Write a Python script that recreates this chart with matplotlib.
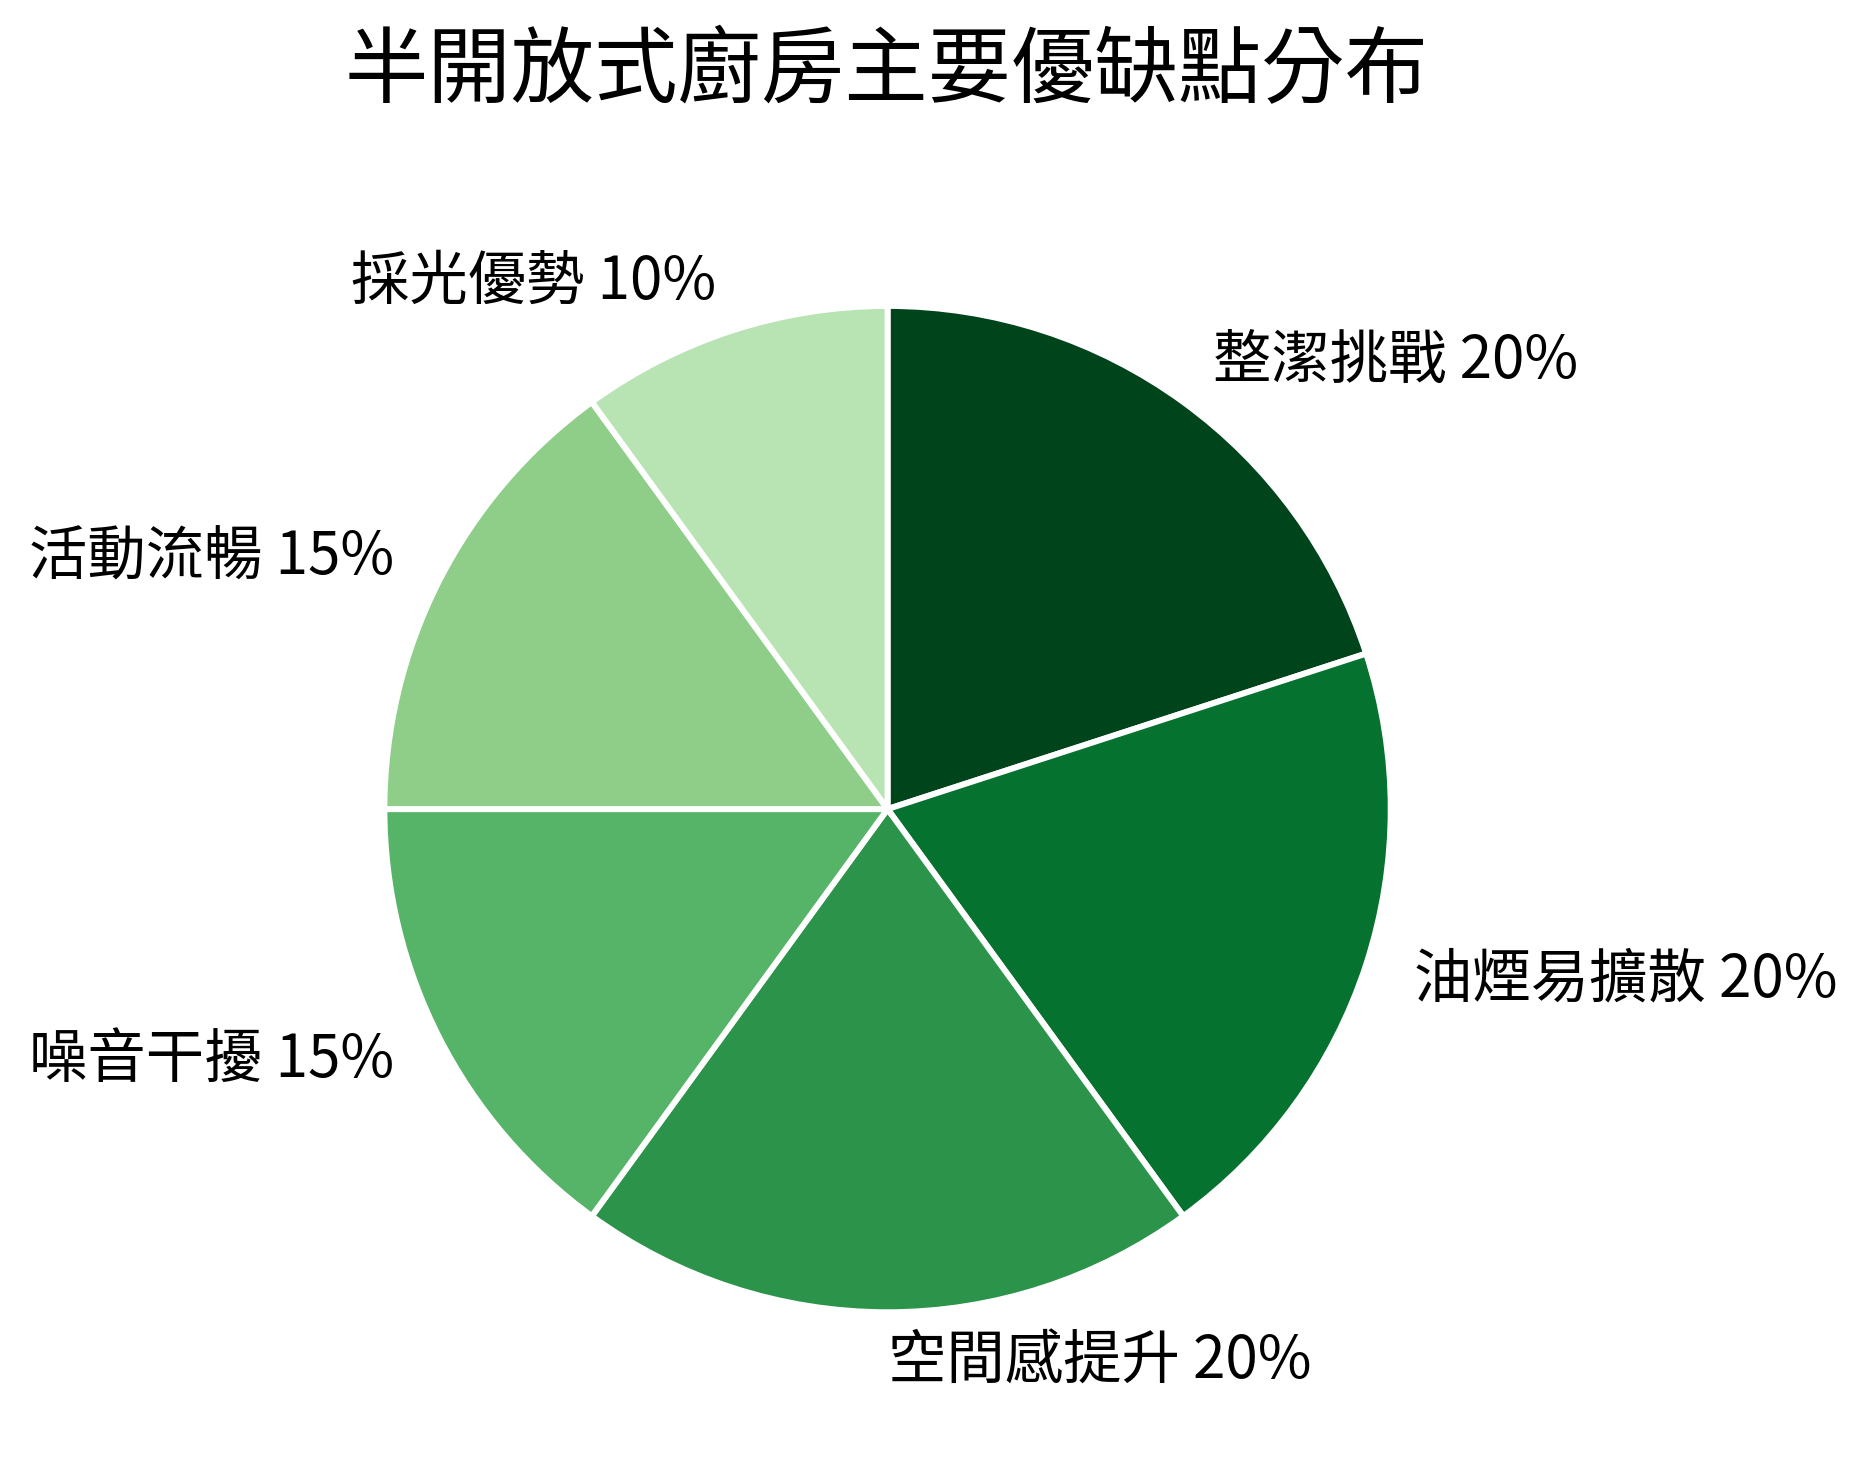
import matplotlib
matplotlib.use("Agg")
import matplotlib.pyplot as plt

plt.rcParams['font.family'] = ['Noto Sans CJK TC', 'DejaVu Sans']

# data
categories = ["整潔挑戰", "油煙易擴散", "空間感提升", "噪音干擾", "活動流暢", "採光優勢"]
shares = [20, 20, 20, 15, 15, 10]
colors = ["#00441b", "#067230", "#2c934b", "#55b467", "#8ece88", "#b8e3b2"]

labels = [f"{c} {v}%" for c, v in zip(categories, shares)]

fig = plt.figure(figsize=(18.67, 14.68), dpi=100)
ax = fig.add_axes([0.1385, 0.0204, 0.6738, 0.8569])

wedges, texts = ax.pie(shares, labels=labels, colors=colors, startangle=90, counterclock=False,
                       wedgeprops={"edgecolor": "white", "linewidth": 4.3},
                       textprops={"fontsize": 42, "color": "black"})
# the bottom label sits on x=0, reference has it starting there
for t in texts:
    x, _ = t.get_position()
    if abs(x) < 1e-6:
        t.set_ha("left")

ax.set_xlim(-1.25, 1.25)
ax.set_ylim(-1.25, 1.25)
ax.set_aspect("equal")

fig.text(0.475, 0.951, "半開放式廚房主要優缺點分布", ha="center", va="center", fontsize=60)

fig.savefig("out.png", dpi=100, facecolor="white")
plt.close(fig)
